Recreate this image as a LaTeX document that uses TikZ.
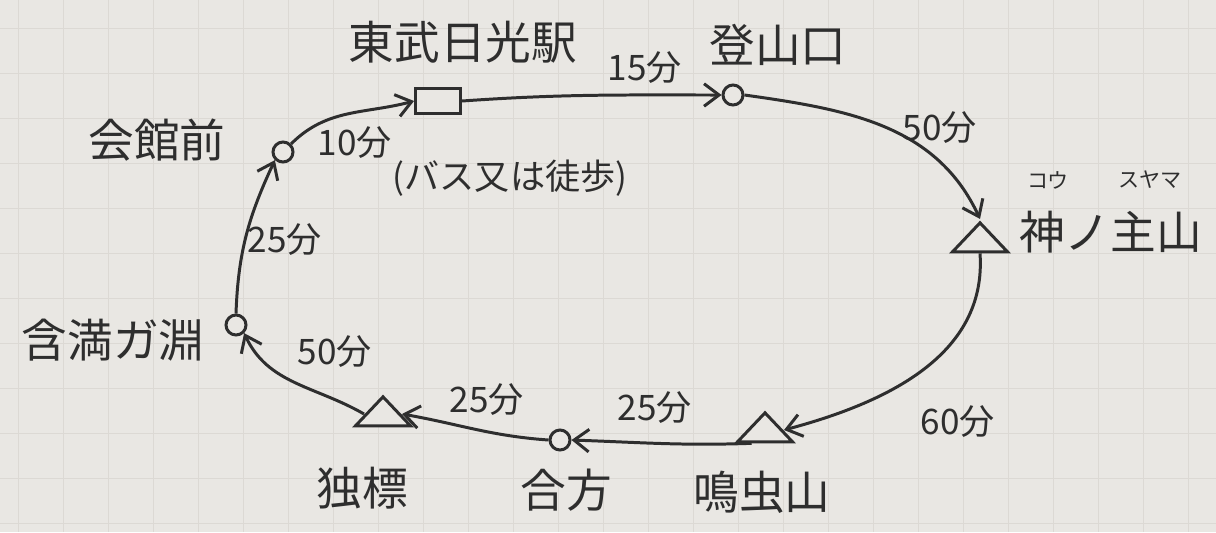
\documentclass[tikz,border=0pt]{standalone}
\usepackage{fontspec}
\setmainfont{Noto Sans CJK JP}
\usepackage{tikz}
\usetikzlibrary{positioning,arrows.meta,shapes.geometric}
\definecolor{ink}{HTML}{2E2E2E}
\definecolor{paper}{HTML}{E9E7E3}
\definecolor{gridline}{HTML}{DCD9D4}

\begin{document}
\begin{tikzpicture}[
  x=0.02cm, y=-0.02cm,
  line width=1.7pt,
  stop/.style={circle, draw=ink, fill=paper, minimum size=0.4cm, inner sep=0pt},
  peak/.style={isosceles triangle, isosceles triangle stretches, shape border rotate=90,
               draw=ink, fill=paper, minimum width=1.1cm, minimum height=0.58cm, inner sep=0pt},
  station/.style={rectangle, draw=ink, fill=paper, minimum width=0.9cm, minimum height=0.5cm, inner sep=0pt},
  place/.style={text=ink, font=\fontsize{26}{30}\selectfont, inner sep=1pt},
  mins/.style={text=ink, font=\fontsize{20}{24}\selectfont, inner sep=1pt},
  ruby/.style={text=ink, font=\fontsize{12}{14}\selectfont, inner sep=1pt},
  route/.style={draw=ink, -{Straight Barb[length=3mm,width=4.5mm]}},
]
% ---------- paper ----------
\fill[paper] (0,0) rectangle (1216,532);
\useasboundingbox (0,0) rectangle (1216,532);
\foreach \gx in {18,63,...,1216} \draw[gridline, line width=0.5pt] (\gx,0) -- (\gx,532);
\foreach \gy in {28,73,...,532} \draw[gridline, line width=0.5pt] (0,\gy) -- (1216,\gy);
% ---------- stops ----------
\node[stop] (kaikan) at (283,152) {};
\node[station] (tobu) at (438,101) {};
\node[stop] (tozan) at (733,95) {};
\node[peak] (kounosu) at (980,240) {};
\node[peak] (narimushi) at (765,430) {};
\node[stop] (aimine) at (560,440) {};
\node[peak] (dokuhyo) at (383,414) {};
\node[stop] (ganman) at (236,325) {};
% ---------- names ----------
\node[place] (kaikanlbl) at (157,140) {会館前};
\node[place] (tobulbl) at (463,42) {東武日光駅};
\node[place] (tozanlbl) at (778,45) {登山口};
\node[place, anchor=west] (kounosulbl) at (1016,232) {神ノ主山};
\node[ruby] (rubyA) at (1048,180) {コウ};
\node[ruby] (rubyB) at (1150,180) {スヤマ};
\node[place] (narimushilbl) at (762,492) {鳴虫山};
\node[place] (aiminelbl) at (566,490) {合方};
\node[place] (dokuhyolbl) at (362,488) {独標};
\node[place] (ganmanlbl) at (113,340) {含満ガ淵};
% ---------- times ----------
\node[mins] (tA) at (355,143) {10分};
\node[mins] (tAnote) at (510,178) {(バス又は徒歩)};
\node[mins] (tB) at (645,68) {15分};
\node[mins] (tC) at (940,128) {50分};
\node[mins] (tD) at (958,422) {60分};
\node[mins] (tE) at (655,408) {25分};
\node[mins] (tF) at (487,400) {25分};
\node[mins] (tG) at (335,352) {50分};
\node[mins] (tH) at (285,240) {25分};
% ---------- route ----------
\draw[route] (kaikan) to[out=45,in=195] (tobu.west);
\draw[route] (tobu.east) to[out=4,in=180] (tozan.west);
\draw[route] (tozan.east) to[out=-8,in=115] (kounosu.apex);
\draw[route] (kounosu.south) to[out=-86,in=15] (narimushi.east);
\draw[route] (narimushi.south west) to[out=182,in=-2] (aimine.east);
\draw[route] (aimine.west) to[out=176,in=-10] (dokuhyo.east);
\draw[route] (dokuhyo.west) to[out=150,in=-65] (ganman.south east);
\draw[route] (ganman.north) to[out=88,in=-115] (kaikan.south west);
\end{tikzpicture}
\end{document}
